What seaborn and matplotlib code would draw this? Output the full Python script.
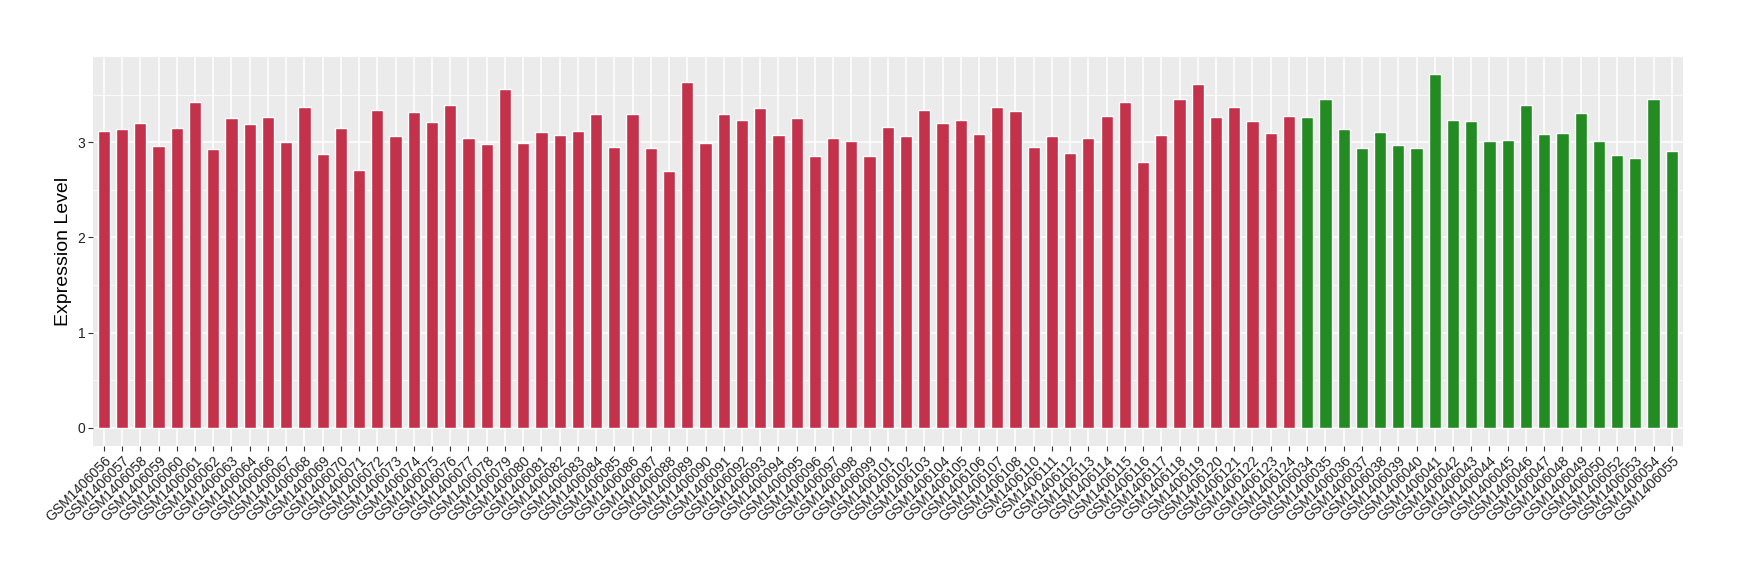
import numpy as np
import pandas as pd
import matplotlib
matplotlib.use("Agg")
import matplotlib.pyplot as plt
import seaborn as sns
from matplotlib.ticker import MultipleLocator

# ---- data ----
tumor_ids = (["GSM14060%02d" % i for i in range(56, 65)] +
             ["GSM14060%02d" % i for i in range(66, 100)] +
             ["GSM1406%03d" % i for i in range(101, 109)] +
             ["GSM1406%03d" % i for i in range(110, 125)])
tumor_values = [3.115, 3.136, 3.199, 2.958, 3.147, 3.419, 2.927, 3.251, 3.188,
                3.262, 3.000, 3.366, 2.874, 3.147, 2.707, 3.335, 3.063, 3.314,
                3.209, 3.387, 3.042, 2.979, 3.555, 2.990, 3.105, 3.073, 3.115,
                3.293, 2.948, 3.293, 2.937, 2.697, 3.628, 2.990, 3.293, 3.230,
                3.356, 3.073, 3.251, 2.853, 3.042, 3.010, 2.853,
                3.157, 3.063, 3.335, 3.199, 3.230, 3.084, 3.366, 3.324,
                2.948, 3.063, 2.885, 3.042, 3.272, 3.419, 2.791, 3.073, 3.450,
                3.607, 3.262, 3.366, 3.220, 3.094, 3.272]
normal_ids = (["GSM14060%02d" % i for i in range(34, 51)] +
              ["GSM14060%02d" % i for i in range(52, 56)])
normal_values = [3.262, 3.450, 3.136, 2.937, 3.105, 2.969, 2.937, 3.712, 3.230,
                 3.220, 3.010, 3.021, 3.387, 3.084, 3.094, 3.303, 3.010, 2.864,
                 2.833, 3.450, 2.906]
group_colors = {"Tumor": "#C3314A", "Normal": "#228B22"}

df = pd.DataFrame({
    "sample": tumor_ids + normal_ids,
    "value": tumor_values + normal_values,
    "group": ["Tumor"] * len(tumor_ids) + ["Normal"] * len(normal_ids),
})

# ---- style ----
sns.set_theme(style="darkgrid", rc={
    "axes.facecolor": "#EBEBEB",
    "grid.color": "white",
    "axes.edgecolor": "none",
})
plt.rcParams["font.family"] = ["Liberation Sans", "DejaVu Sans"]

fig = plt.figure(figsize=(17.4, 5.8), dpi=100)
ax = fig.add_axes([0.0534, 0.2316, 0.9137, 0.6706])

sns.barplot(data=df, x="sample", y="value", hue="group", order=df["sample"].tolist(),
            palette=group_colors, width=0.67, saturation=1, dodge=False,
            legend=False, ax=ax, zorder=3)

ymax = df["value"].max()
ax.set_ylim(-0.05 * ymax, 1.05 * ymax)
ax.set_xlim(-0.6, len(df) - 0.4)
ax.yaxis.set_major_locator(MultipleLocator(1))
ax.yaxis.set_minor_locator(MultipleLocator(0.5))
ax.grid(which="major", color="white", linewidth=1.1, zorder=0)
ax.grid(which="minor", axis="y", color="white", linewidth=0.55, zorder=0)
ax.set_axisbelow(True)
for s in ax.spines.values():
    s.set_visible(False)

ax.set_xlabel("")
ax.set_ylabel("Expression Level", fontsize=14, color="black", labelpad=4)
ax.tick_params(axis="both", which="major", length=3.5, width=0.8, color="#333333",
               labelcolor="#222222", labelsize=10, pad=2, bottom=True, left=True)
ax.tick_params(axis="both", which="minor", length=0)
plt.setp(ax.get_xticklabels(), rotation=45, ha="right", rotation_mode="anchor")

fig.savefig("out.png", dpi=100, facecolor="white")
